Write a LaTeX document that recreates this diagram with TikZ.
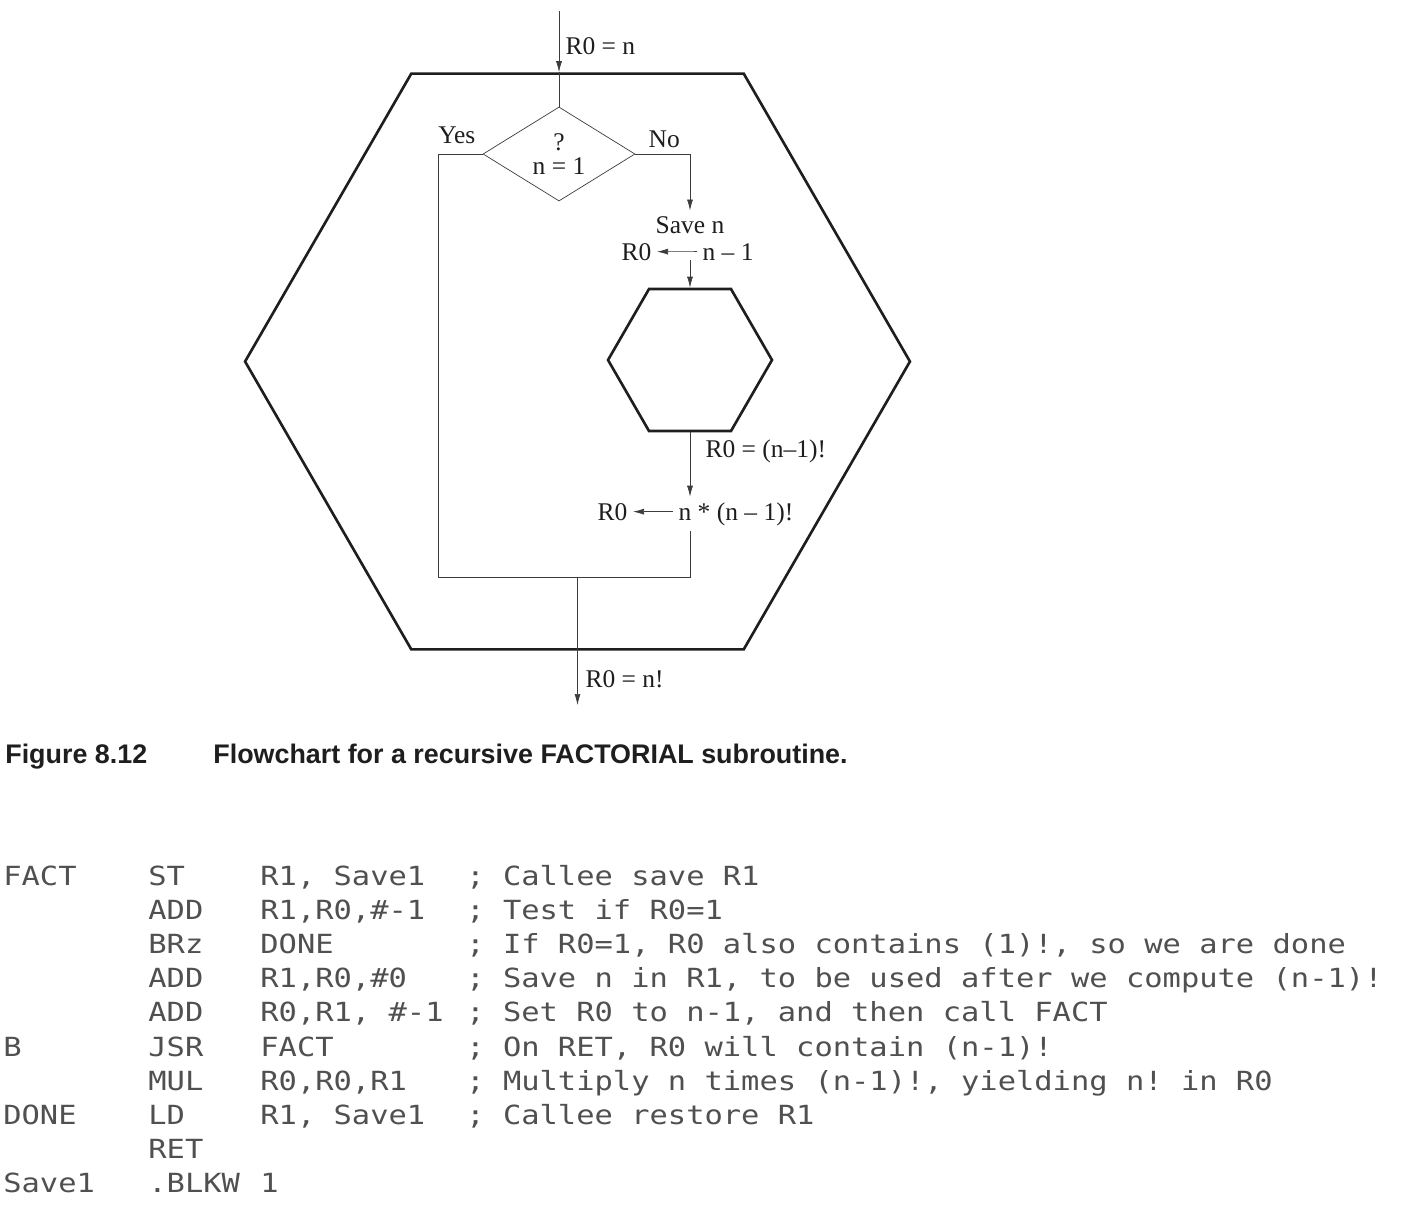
\documentclass[tikz,border=0pt]{standalone}
\usepackage{fontspec}
\setmainfont{Liberation Serif}
\newfontfamily\capfont{Liberation Sans}
\newfontfamily\codefont[FakeStretch=1.155]{DejaVu Sans Mono}
\usetikzlibrary{shapes.geometric, arrows.meta}
\definecolor{lineGray}{RGB}{60,60,60}
\definecolor{codeGray}{RGB}{80,80,80}
\definecolor{inkBlack}{RGB}{30,30,30}
\frenchspacing

\begin{document}
\begin{tikzpicture}[x=0.02cm, y=-0.02cm,
    hexbox/.style={regular polygon, regular polygon sides=6, draw=inkBlack, line width=1.5pt, inner sep=0pt},
    decision/.style={diamond, draw=lineGray, thin, inner sep=0pt, minimum width=3.04cm, minimum height=1.52cm,
      align=center, text=inkBlack, font=\fontsize{14.5}{14}\selectfont},
    lbl/.style={inner sep=3pt, text=inkBlack, font=\fontsize{14.5}{16}\selectfont},
    wire/.style={draw=lineGray, thin},
    flow/.style={wire, -{Latex[length=2.2mm, width=1.2mm]}},
    asmline/.style={anchor=base west, inner sep=0pt, text=codeGray, font=\codefont\fontsize{15}{15}\selectfont},
    figcap/.style={anchor=base west, inner sep=0pt, text=inkBlack, font=\capfont\bfseries\fontsize{15.3}{15.3}\selectfont}]
  \useasboundingbox (0,0) rectangle (1412,1214);

  % flowchart
  \node[hexbox, minimum size=13.3cm] (outer) at (577.5,361.5) {};
  \node[hexbox, minimum size=3.28cm] (inner) at (690,360) {};
  \node[decision] (test) at (559,154) {?\\n = 1};

  \node[lbl, anchor=base west] (rin) at (560,54) {R0 = n};
  \node[lbl, anchor=base east] (yes) at (481,143) {Yes};
  \node[lbl, anchor=base west] (no) at (643,147) {No};
  \node[lbl, anchor=base] (save) at (690,233) {Save n};
  \node[lbl, anchor=base east] (r0a) at (657,260) {R0};
  \node[lbl, anchor=base west] (nm1) at (697,260) {n -- 1};
  \node[lbl, anchor=base west] (ret1) at (700,457) {R0 = (n--1)!};
  \node[lbl, anchor=base east] (r0b) at (633,520) {R0};
  \node[lbl, anchor=base west] (prod) at (673,520) {n * (n -- 1)!};
  \node[lbl, anchor=base west] (rout) at (580,687) {R0 = n!};

  \coordinate (entry) at (559,11);
  \coordinate (loopleft) at (438,577);
  \coordinate (loopright) at (690,577);
  \coordinate (exit) at (577.5,705);

  \draw[flow] (entry) -- (entry |- outer.north);
  \draw[wire] (entry |- outer.north) -- (test.north);
  \draw[wire] (test.west) -| (loopleft) -- (loopright) -- (loopright |- prod.south);
  \draw[flow] (test.east) -| (save.north);
  \draw[flow] (nm1.west) -- (r0a.east);
  \draw[flow] (inner.north |- r0a.base) -- (inner.north);
  \draw[flow] (inner.south) -- (inner.south |- prod.north);
  \draw[flow] (prod.west |- r0b.east) -- (r0b.east);
  \draw[flow] (exit |- loopleft) -- (exit);

  % caption
  \node[figcap] (fignum) at (5,763) {Figure 8.12};
  \node[figcap] (figtitle) at (213,763) {Flowchart for a recursive FACTORIAL subroutine.};

  % listing
  \foreach \lab/\op/\arg/\cmt [count=\i from 0] in {
      FACT/ST/{R1, Save1}/{; Callee save R1},
      {}/ADD/{R1,R0,\#-1}/{; Test if R0=1},
      {}/BRz/DONE/{; If R0=1, R0 also contains (1)!, so we are done},
      {}/ADD/{R1,R0,\#0}/{; Save n in R1, to be used after we compute (n-1)!},
      {}/ADD/{R0,R1, \#-1}/{; Set R0 to n-1, and then call FACT},
      B/JSR/FACT/{; On RET, R0 will contain (n-1)!},
      {}/MUL/{R0,R0,R1}/{; Multiply n times (n-1)!, yielding n! in R0},
      DONE/LD/{R1, Save1}/{; Callee restore R1},
      {}/RET/{}/{},
      Save1/.BLKW/1/{}}{
    \node[asmline] (lab\i) at (3,{885+34.2*\i}) {\lab};
    \node[asmline] (op\i) at (148,{885+34.2*\i}) {\op};
    \node[asmline] (arg\i) at (260,{885+34.2*\i}) {\arg};
    \node[asmline] (cmt\i) at (466,{885+34.2*\i}) {\cmt};
  }
\end{tikzpicture}
\end{document}
